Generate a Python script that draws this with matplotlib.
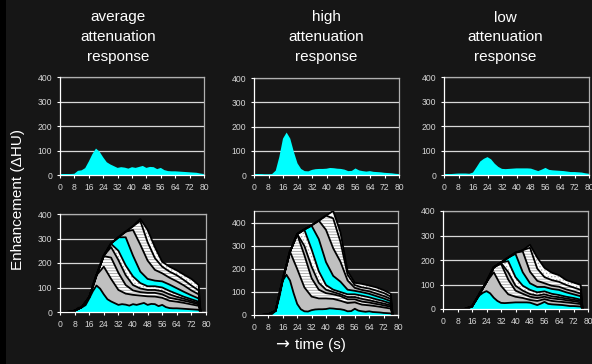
import numpy as np
import matplotlib
matplotlib.use("Agg")
import matplotlib.pyplot as plt
from matplotlib.patches import Rectangle

plt.rcParams['font.family'] = ['Liberation Sans', 'DejaVu Sans']
plt.rcParams['hatch.linewidth'] = 0.6

# ---------------- data ----------------
t_top = list(range(0, 81, 2))
avg_top = [4, 4, 4, 4, 5, 17, 19, 28, 55, 85, 108, 95, 72, 52, 43, 36, 29, 32, 30, 26, 32,
           29, 33, 37, 29, 33, 32, 24, 29, 20, 16, 15, 15, 14, 13, 12, 11, 10, 9, 6, 4]
high_top = [4, 4, 4, 3, 3, 4, 18, 75, 150, 175, 150, 95, 48, 25, 16, 15, 21, 24, 25, 25, 26,
            29, 28, 26, 25, 22, 16, 17, 27, 19, 16, 14, 16, 13, 12, 11, 9, 8, 7, 5, 4]
low_top = [4, 4, 4, 5, 6, 6, 6, 5, 10, 32, 55, 66, 73, 64, 46, 33, 25, 24, 25, 26, 27,
           27, 27, 27, 26, 21, 16, 22, 29, 21, 19, 18, 17, 16, 14, 12, 12, 11, 10, 7, 5]

t_stack = [0, 4, 8, 12, 16, 20, 24, 28, 32, 36, 40, 44, 48, 52, 56, 60, 64, 68, 72, 76, 77]

avg_b2 = [0, 0, 5, 20, 60, 150, 185, 135, 90, 75, 70, 67, 64, 63, 58, 46, 42, 37, 31, 25, 0]
avg_b3 = [0, 0, 5, 20, 60, 150, 228, 222, 160, 110, 88, 81, 78, 78, 72, 58, 52, 46, 39, 31, 0]
avg_b4 = [0, 0, 5, 20, 60, 150, 230, 265, 212, 150, 110, 96, 90, 90, 85, 72, 62, 54, 45, 36, 0]
avg_b5 = [0, 0, 5, 20, 60, 150, 230, 278, 250, 190, 145, 118, 105, 105, 100, 86, 74, 62, 52, 42, 0]
avg_b6 = [0, 0, 5, 20, 60, 150, 230, 280, 305, 305, 230, 165, 135, 128, 125, 112, 97, 82, 68, 55, 0]
avg_b7 = [0, 0, 5, 20, 60, 150, 230, 280, 305, 328, 335, 275, 210, 172, 158, 140, 125, 108, 88, 72, 0]
avg_b8 = [0, 0, 5, 20, 60, 150, 230, 280, 305, 328, 350, 372, 285, 220, 185, 165, 150, 130, 108, 88, 0]
avg_b9 = [0, 0, 5, 20, 60, 150, 230, 280, 305, 328, 350, 380, 335, 265, 205, 185, 170, 152, 135, 110, 0]

high_b2 = [0, 0, 3, 18, 155, 275, 200, 120, 80, 72, 72, 70, 62, 52, 55, 45, 42, 38, 33, 28, 0]
high_b3 = [0, 0, 3, 18, 155, 275, 350, 260, 160, 110, 95, 90, 82, 68, 68, 58, 54, 48, 42, 36, 0]
high_b4 = [0, 0, 3, 18, 155, 275, 352, 300, 210, 140, 110, 100, 90, 78, 78, 70, 64, 57, 50, 42, 0]
high_b5 = [0, 0, 3, 18, 155, 275, 352, 370, 285, 190, 130, 110, 100, 90, 90, 84, 77, 68, 60, 50, 0]
high_b6 = [0, 0, 3, 18, 155, 275, 352, 372, 388, 330, 230, 170, 145, 110, 105, 99, 92, 82, 72, 60, 0]
high_b7 = [0, 0, 3, 18, 155, 275, 352, 372, 390, 410, 370, 290, 232, 150, 118, 109, 103, 93, 83, 70, 0]
high_b8 = [0, 0, 3, 18, 155, 275, 352, 372, 390, 410, 432, 420, 319, 175, 130, 120, 115, 106, 96, 80, 0]
high_b9 = [0, 0, 3, 18, 155, 275, 352, 372, 390, 410, 432, 452, 360, 190, 140, 135, 128, 120, 108, 92, 0]

low_b2 = [0, 0, 0, 0, 10, 58, 110, 150, 95, 60, 50, 45, 37, 33, 40, 33, 30, 27, 24, 20, 0]
low_b3 = [0, 0, 0, 0, 10, 60, 110, 170, 185, 120, 75, 62, 50, 45, 50, 43, 40, 36, 32, 27, 0]
low_b4 = [0, 0, 0, 0, 10, 60, 110, 170, 188, 150, 95, 75, 61, 55, 60, 52, 48, 43, 38, 33, 0]
low_b5 = [0, 0, 0, 0, 10, 60, 110, 170, 190, 195, 130, 95, 78, 68, 72, 62, 57, 50, 45, 38, 0]
low_b6 = [0, 0, 0, 0, 10, 60, 110, 170, 190, 210, 225, 150, 105, 90, 90, 82, 78, 68, 60, 52, 0]
low_b7 = [0, 0, 0, 0, 10, 60, 110, 170, 190, 210, 230, 235, 152, 115, 105, 95, 91, 80, 72, 63, 0]
low_b8 = [0, 0, 0, 0, 10, 60, 110, 170, 190, 210, 230, 240, 250, 165, 130, 118, 111, 98, 88, 78, 0]
low_b9 = [0, 0, 0, 0, 10, 60, 110, 170, 190, 210, 230, 240, 262, 210, 168, 148, 138, 118, 108, 98, 0]

titles = ["average\nattenuation\nresponse", "high\nattenuation\nresponse",
          "low\nattenuation\nresponse"]
x_ticks = list(range(0, 81, 8))
y_ticks = [0, 100, 200, 300, 400]
ylabel = "Enhancement (\u0394HU)"
xlabel_arrow = "\u2192"
xlabel_text = "time (s)"

# ---------------- style ----------------
BG = '#161616'
CYAN = '#00ffff'
GRAY = '#c0c0c0'
layer_styles = {  # boundary index -> fill style (layer below that boundary)
    2: dict(facecolor=GRAY, edgecolor=GRAY, hatch=None),
    3: dict(facecolor='white', edgecolor='#a0a0a0', hatch='------'),
    4: dict(facecolor=GRAY, edgecolor=GRAY, hatch=None),
    5: dict(facecolor='white', edgecolor='#a8a8a8', hatch='.....'),
    6: dict(facecolor=CYAN, edgecolor=CYAN, hatch=None),
    7: dict(facecolor=GRAY, edgecolor=GRAY, hatch=None),
    8: dict(facecolor='white', edgecolor='#a0a0a0', hatch='------'),
    9: dict(facecolor='white', edgecolor='#a8a8a8', hatch='.....'),
}

W, H = 592, 364
fig = plt.figure(figsize=(W / 100, H / 100), dpi=100, facecolor=BG)
fig.add_artist(Rectangle((0, 0), 6 / W, 1, transform=fig.transFigure,
                         facecolor='black', edgecolor='none'))


def px_axes(x0, x1, ytop, ybot):
    return fig.add_axes([x0 / W, 1 - ybot / H, (x1 - x0) / W, (ybot - ytop) / H])


def style_axes(ax, ymax):
    ax.set_facecolor(BG)
    ax.set_xlim(0, 80)
    ax.set_ylim(0, ymax)
    ax.set_xticks(x_ticks)
    ax.set_yticks(y_ticks)
    ax.yaxis.grid(True, color='#d8d8d8', linewidth=0.9)
    ax.set_axisbelow(True)
    for s in ['top', 'right']:
        ax.spines[s].set_color('#b0b0b0')
        ax.spines[s].set_linewidth(0.9)
    for s in ['left', 'bottom']:
        ax.spines[s].set_color('white')
        ax.spines[s].set_linewidth(0.9)
        ax.spines[s].set_zorder(5)
    ax.tick_params(direction='out', length=2.5, width=0.8, color='white',
                   labelsize=6.2, labelcolor='#d6d6d6', pad=3)


# top panels
top_data = [avg_top, high_top, low_top]
top_pos = [(60, 204, 77, 175), (254, 399, 78, 175), (444, 589, 77, 175)]
for data, pos in zip(top_data, top_pos):
    ax = px_axes(*pos)
    style_axes(ax, 400)
    ax.fill_between(t_top, 0, data, facecolor=CYAN, edgecolor='none', zorder=2)

# bottom panels
bottom_bounds = [
    [avg_b2, avg_b3, avg_b4, avg_b5, avg_b6, avg_b7, avg_b8, avg_b9],
    [high_b2, high_b3, high_b4, high_b5, high_b6, high_b7, high_b8, high_b9],
    [low_b2, low_b3, low_b4, low_b5, low_b6, low_b7, low_b8, low_b9],
]
bottom_pos = [(60, 206, 214, 312), (254, 398, 211, 315), (443, 588, 211, 309)]
bottom_ymax = [400, 452, 400]
bottom_start = [4, 4, 7]   # index in t_top where the stacked bolus begins
for data, bounds, pos, ymax, i0 in zip(top_data, bottom_bounds, bottom_pos,
                                        bottom_ymax, bottom_start):
    ax = px_axes(*pos)
    style_axes(ax, ymax)
    # painter's order: highest boundary first, each filled down to zero
    for k in range(9, 1, -1):
        st = layer_styles[k]
        ax.fill_between(t_stack, 0, bounds[k - 2], facecolor=st['facecolor'],
                        edgecolor=st['edgecolor'], hatch=st['hatch'],
                        linewidth=0, zorder=2)
    xc = t_top[i0:39] + [77]
    yc = data[i0:39] + [0]
    ax.fill_between(xc, 0, yc, facecolor=CYAN, edgecolor='none', linewidth=0, zorder=2)
    for k in range(9, 1, -1):
        ax.plot(t_stack, bounds[k - 2], color='black', lw=1.3, zorder=3,
                solid_joinstyle='round')
    ax.plot(xc, yc, color='black', lw=1.3, zorder=3, solid_joinstyle='round')

# titles and labels
title_x = [118, 326, 505]
for tx, tt in zip(title_x, titles):
    fig.text(tx / W, 1 - 37 / H, tt, ha='center', va='center', color='white',
             fontsize=11, linespacing=1.5)
fig.text(18 / W, 1 - 200 / H, ylabel, rotation=90, ha='center', va='center',
         color='white', fontsize=11)
fig.text(282 / W, 1 - 345 / H, xlabel_arrow, ha='center', va='center',
         color='white', fontsize=12, family=['DejaVu Sans'])
fig.text(295 / W, 1 - 345 / H, xlabel_text, ha='left', va='center',
         color='white', fontsize=11)

fig.savefig('out.png', dpi=100, facecolor=BG)
